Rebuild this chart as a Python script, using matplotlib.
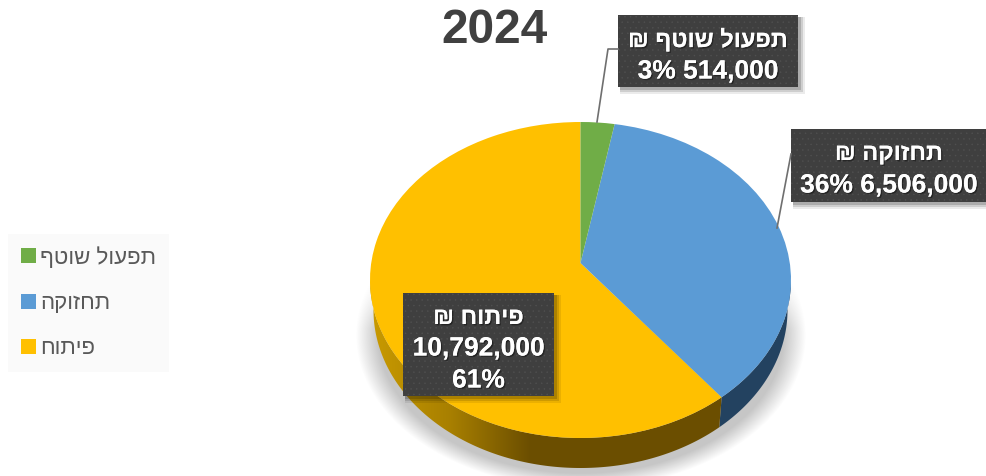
import numpy as np
import matplotlib
matplotlib.use("Agg")
import matplotlib.pyplot as plt
import matplotlib.patheffects as pe
from matplotlib.patches import Rectangle, Polygon

# data
title = "2024"
categories = ["פיתוח", "תחזוקה", "תפעול שוטף"]
values = [10792000, 6506000, 514000]
percents = [61, 36, 3]
colors = ["#FFC000", "#5B9BD5", "#70AD47"]

plt.rcParams['font.family'] = ['Liberation Sans', 'DejaVu Sans']
plt.rcParams['hatch.linewidth'] = 0.3

W, H = 987, 476


def heb(s):
    # matplotlib has no bidi, hebrew has to be handed over in visual order
    return s[::-1]


fig = plt.figure(figsize=(W / 100, H / 100), dpi=100, facecolor="white")

# pixel axes for what is behind the pie
bg = fig.add_axes([0, 0, 1, 1], zorder=1)
bg.axis("off")

# ellipse of the top face, in pixels
cx, cy, rx, ry = 580.5, 280, 210.5, 158
depth = 30
rx_low = 207
k = (cy - 263) / ry  # the slices meet above the middle of the ellipse


def proj(v):
    # perspective: keeps the unit circle, moves its centre up to k
    x, y = v[..., 0], v[..., 1]
    d = 1 + k * y
    return np.stack([x * np.sqrt(1 - k ** 2) / d, (y + k) / d], axis=-1)


# soft shadow below the pie
yy, xx = np.mgrid[0:H, 0:W]
e = np.sqrt(((xx - cx) / 225) ** 2 + ((yy - 335) / 153) ** 2)
fade = np.clip((yy - 268) / 60, 0, 1)
shadow = np.zeros((H, W, 4))
shadow[..., :3] = 0.78
shadow[..., 3] = np.clip((1 - e) / 0.1, 0, 1) * fade
bg.imshow(shadow, extent=(0, W, H, 0), zorder=1, aspect="auto", interpolation="bilinear")

# pie on its own axes, stretched to the ellipse
ax = fig.add_axes([(cx - rx) / W, 1 - (cy + ry) / H, 2 * rx / W, 2 * ry / H], zorder=2)
wedges, _ = ax.pie(values, colors=colors, startangle=90, counterclock=True,
                   wedgeprops=dict(linewidth=0))
ax.set_aspect("auto")
ax.set_xlim(-1, 1)
ax.set_ylim(-1, 1)
for w in wedges:
    p = w.get_path()
    p.vertices = proj(p.vertices)

# side wall, lower rim is a bit narrower than the top face
t_end = np.deg2rad(90 + 360 * values[0] / sum(values))
q = proj(np.array([np.cos(t_end), np.sin(t_end)]))
t_split = np.arctan2(q[1], q[0]) % (2 * np.pi)


def wall(t0, t1):
    a = np.linspace(t0, t1, 200)
    top_rim = np.c_[cx + rx * np.cos(a), cy - ry * np.sin(a)]
    low_rim = np.c_[cx + rx_low * np.cos(a), cy + depth - ry * np.sin(a)]
    return np.r_[top_rim, low_rim[::-1]]


yellow_wall = Polygon(wall(np.pi, t_split), closed=True, lw=0, fc="none")
blue_wall = Polygon(wall(t_split, 2 * np.pi), closed=True, lw=0, fc="#234260", zorder=2)
bg.add_patch(yellow_wall)
bg.add_patch(blue_wall)

shade = np.interp(np.arange(cx - rx, cx + rx), [cx - rx, 450, 530, cx + rx], [0, 0.35, 1, 1])
light = np.array([201, 154, 0]) / 255
dark = np.array([107, 78, 0]) / 255
grad = (light[None, :] * (1 - shade[:, None]) + dark[None, :] * shade[:, None])[None, :, :]
im = bg.imshow(grad, extent=(cx - rx, cx + rx, cy + ry + depth, cy), zorder=2, aspect="auto")
im.set_clip_path(yellow_wall)
bg.set_xlim(0, W)
bg.set_ylim(H, 0)

# overlay for labels
top = fig.add_axes([0, 0, 1, 1], zorder=3)
top.set_xlim(0, W)
top.set_ylim(H, 0)
top.axis("off")
top.patch.set_alpha(0)

top.text(494.5, 30.5, title, fontsize=34.5, fontweight="bold", color="#404040", ha="center", va="center")

# leader lines
top.plot([618, 608, 597], [49, 49, 122], color="#6f6f6f", lw=1.2)
top.plot([791, 777], [154, 228], color="#6f6f6f", lw=1.2)


def label_box(x0, y0, x1, y1, lines):
    for i, a in zip([7, 5, 3], [0.08, 0.12, 0.16]):
        top.add_patch(Rectangle((x0 + 2, y0 + 2), x1 - x0 + i - 2, y1 - y0 + i - 2, fc="black", alpha=a, lw=0))
    top.add_patch(Rectangle((x0, y0), x1 - x0, y1 - y0, fc="#3f3f3f", ec="#505050", hatch="...", lw=0))
    for txt, size, y in lines:
        top.text((x0 + x1) / 2, y, txt, fontsize=size, fontweight="bold", color="white",
                 ha="center", va="center_baseline",
                 path_effects=[pe.withSimplePatchShadow(offset=(1, -1), shadow_rgbFace="black", alpha=0.4),
                               pe.Normal()])


def line1(i):
    return heb(categories[i] + " ₪")


label_box(618, 15, 798, 87, [(line1(2), 17, 37), (f"{percents[2]}% {values[2]:,}", 19, 69)])
label_box(791, 129, 987, 202, [(line1(1), 17, 151), (f"{percents[1]}% {values[1]:,}", 19, 183)])
label_box(403, 293, 554, 396, [(line1(0), 17, 315), (f"{values[0]:,}", 19, 346), (f"{percents[0]}%", 19, 378)])

# legend
handles = [wedges[2], wedges[1], wedges[0]]
labels = [heb(categories[2]), heb(categories[1]), heb(categories[0])]
leg = top.legend(handles, labels, loc="upper left", bbox_to_anchor=(8 / W, 1 - 234 / H), borderaxespad=0,
                 frameon=True, fancybox=False, facecolor="#fafafa", edgecolor="none", framealpha=1,
                 fontsize=16, labelcolor="#595959", handlelength=0.66, handleheight=0.66,
                 handletextpad=0.2, labelspacing=1.1, borderpad=0.58)

fig.savefig("out.png", dpi=100)
